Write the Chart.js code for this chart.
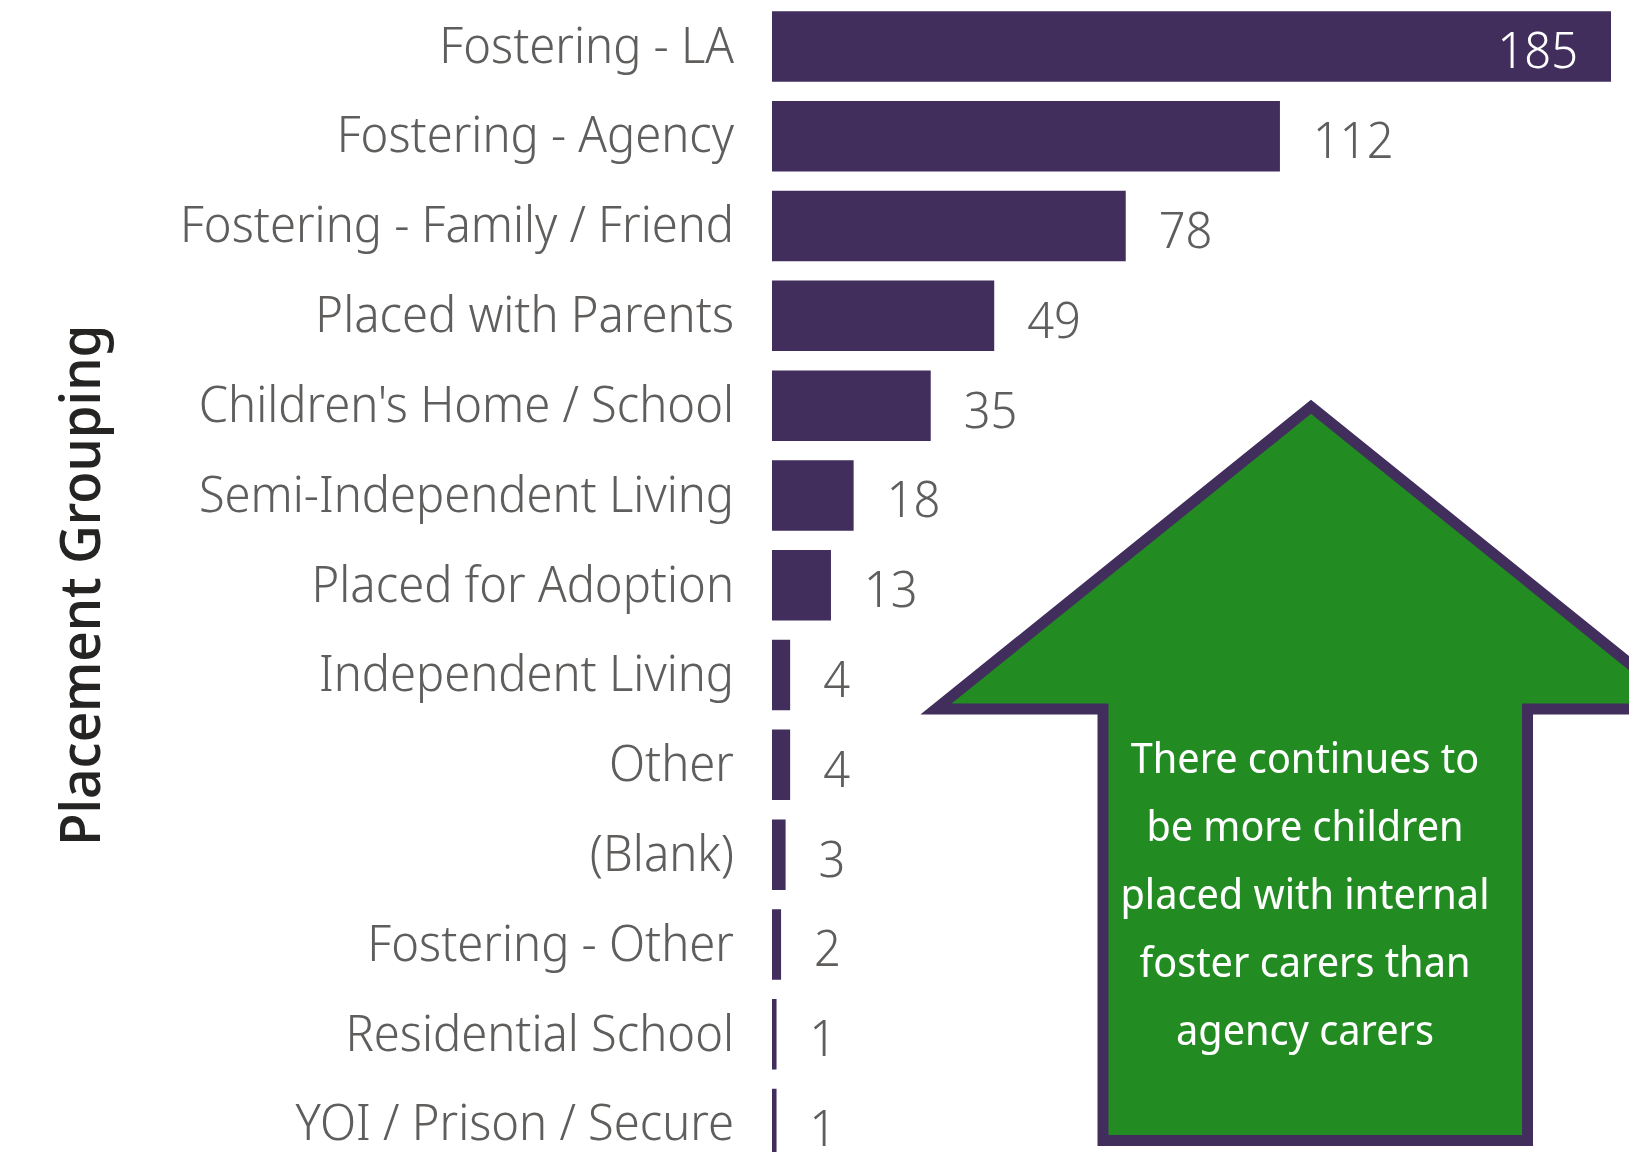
<!DOCTYPE html>
<html>
<head>
<meta charset="utf-8">
<script src="https://cdn.jsdelivr.net/npm/chart.js@4/dist/chart.umd.min.js"></script>
<style>
  html, body { margin: 0; padding: 0; background: #ffffff; overflow: hidden; width: 1629px; height: 1152px; }
  #wrap { position: relative; width: 1629px; height: 1152px; overflow: hidden; }
  #c { position: absolute; left: 0; top: 0; }
  #arrow { position: absolute; left: 0; top: 0; }
  #note {
    position: absolute; left: 1075px; top: 723px; width: 460px;
    font-family: "Noto Sans Display", "Open Sans", sans-serif; font-weight: 400;
    font-size: 42px; line-height: 68px; color: #ffffff; text-align: center;
  }
</style>
</head>
<body>
<div id="wrap">
  <canvas id="c" width="1629" height="1169"></canvas>
  <svg id="arrow" width="1629" height="1152" viewBox="0 0 1629 1152">
    <polygon points="1311,406.8 1686,709 1527.5,709 1527.5,1140.5 1103,1140.5 1103,709 936,709"
      fill="#228B22" stroke="#412E5C" stroke-width="11" stroke-linejoin="miter" stroke-miterlimit="10"/>
  </svg>
  <div id="note">There continues to<br>be more children<br>placed with internal<br>foster carers than<br>agency carers</div>
</div>
<script>
const categories = [
  "Fostering - LA",
  "Fostering - Agency",
  "Fostering - Family / Friend",
  "Placed with Parents",
  "Children's Home / School",
  "Semi-Independent Living",
  "Placed for Adoption",
  "Independent Living",
  "Other",
  "(Blank)",
  "Fostering - Other",
  "Residential School",
  "YOI / Prison / Secure"
];
const counts = [185, 112, 78, 49, 35, 18, 13, 4, 4, 3, 2, 1, 1];
const axisTitle = "Placement Grouping";

const BAR = "#412E5C";
const LABEL_FONT = '300 50px "Noto Sans Display", "Open Sans", sans-serif';

const valueLabels = {
  id: "valueLabels",
  afterDatasetsDraw(chart) {
    const ctx = chart.ctx;
    const meta = chart.getDatasetMeta(0);
    const area = chart.chartArea;
    ctx.save();
    ctx.font = LABEL_FONT;
    ctx.textBaseline = "alphabetic";
    meta.data.forEach((bar, i) => {
      const txt = String(chart.data.datasets[0].data[i]);
      const w = ctx.measureText(txt).width;
      const y = bar.y + 22;
      if (bar.x + 33 + w > area.right) {
        ctx.fillStyle = "#ffffff";
        ctx.textAlign = "right";
        ctx.fillText(txt, bar.x - 33, y);
      } else {
        ctx.fillStyle = "#605E5C";
        ctx.textAlign = "left";
        ctx.fillText(txt, bar.x + 33, y);
      }
    });
    ctx.restore();
  }
};

new Chart(document.getElementById("c"), {
  type: "bar",
  data: {
    labels: categories,
    datasets: [{
      data: counts,
      backgroundColor: BAR,
      borderWidth: 0,
      categoryPercentage: 1.0,
      barPercentage: 0.785
    }]
  },
  options: {
    indexAxis: "y",
    responsive: false,
    devicePixelRatio: 1,
    animation: false,
    layout: { padding: { top: 1.5, right: 18, left: 0, bottom: 0 } },
    plugins: { legend: { display: false }, tooltip: { enabled: false } },
    scales: {
      x: { display: false, min: 0, max: 185 },
      y: {
        grid: { display: false, drawTicks: false },
        border: { display: false },
        ticks: {
          color: "#605E5C",
          padding: 38,
          labelOffset: 2,
          autoSkip: false,
          font: { family: '"Noto Sans Display", "Open Sans", sans-serif', size: 50, weight: "300" }
        },
        title: {
          display: true,
          text: axisTitle,
          color: "#252423",
          font: { family: '"Noto Sans Display", "Open Sans", sans-serif', size: 56, weight: "500", lineHeight: 1 },
          padding: { top: 56, bottom: 0 }
        },
        afterFit(scale) {
          scale.width = 772;
          scale.paddingTop = 0;
          scale.paddingBottom = 0;
        }
      }
    }
  },
  plugins: [valueLabels]
});
</script>
</body>
</html>
